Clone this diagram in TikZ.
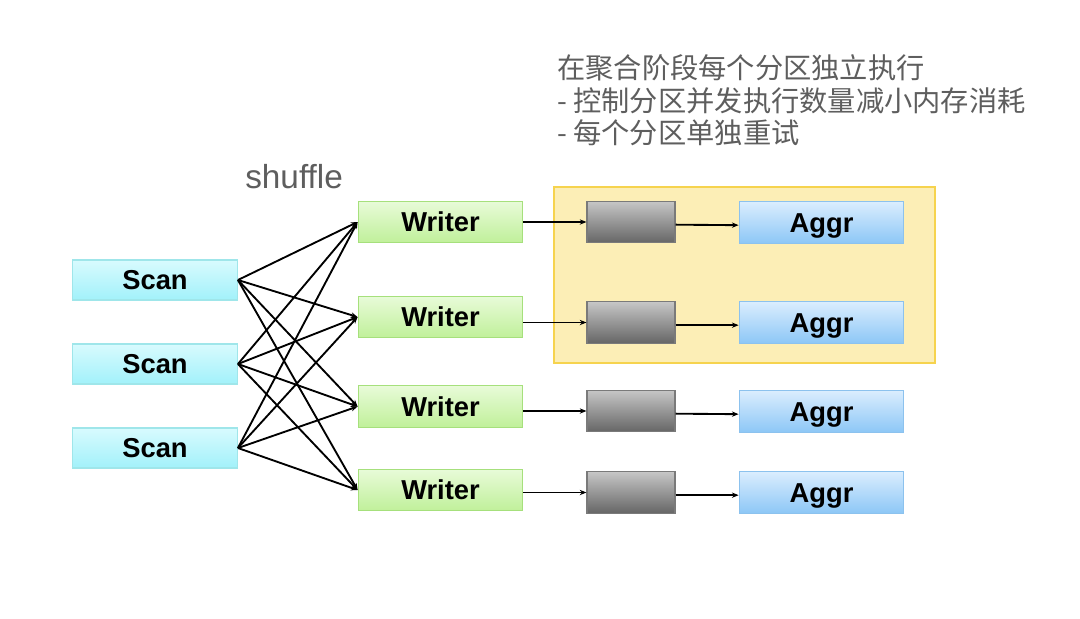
\documentclass[tikz,border=0pt]{standalone}
\usepackage{fontspec}
\setmainfont{Liberation Sans}
\newfontfamily\cjk{Noto Sans CJK SC}
\usetikzlibrary{arrows.meta}
\definecolor{scanTop}{HTML}{D8FBFE}
\definecolor{scanBot}{HTML}{A2F1FA}
\definecolor{scanLine}{HTML}{9FE6EA}
\definecolor{wrTop}{HTML}{E8FBD8}
\definecolor{wrBot}{HTML}{C0F09A}
\definecolor{wrLine}{HTML}{A6E07C}
\definecolor{agTop}{HTML}{DAEDFE}
\definecolor{agBot}{HTML}{8DC7F6}
\definecolor{agLine}{HTML}{8CC2EE}
\definecolor{gyTop}{HTML}{C6C6C6}
\definecolor{gyBot}{HTML}{666666}
\definecolor{gyLine}{HTML}{7A7A7A}
\definecolor{zoneFill}{HTML}{FCEEB6}
\definecolor{zoneLine}{HTML}{F6D34E}
\definecolor{noteGray}{HTML}{5E5E5E}
\tikzset{
  x=0.75pt, y=-0.75pt,
  opbox/.style={draw, line width=0.9pt, inner sep=0pt, font=\fontsize{20.5}{22}\selectfont\bfseries,
    text height=14.8pt, text depth=0pt,
    minimum width=123.5pt, minimum height=31pt},
  scanbox/.style={opbox, draw=scanLine, top color=scanTop, bottom color=scanBot, minimum height=30pt},
  writerbox/.style={opbox, draw=wrLine, top color=wrTop, bottom color=wrBot},
  aggrbox/.style={opbox, draw=agLine, top color=agTop, bottom color=agBot},
  bufbox/.style={draw=gyLine, line width=0.9pt, top color=gyTop, bottom color=gyBot,
    minimum width=66pt, minimum height=31pt, inner sep=0pt},
  link/.style={line width=1.4pt, -{Stealth[length=5pt,width=4pt]}},
  note/.style={anchor=west, inner sep=0pt, text=noteGray, font=\cjk\fontsize{21.2}{24}\selectfont},
}
\begin{document}
\begin{tikzpicture}
\useasboundingbox (0,0) rectangle (1080,618);
\fill[white] (0,0) rectangle (1080,618);
% yellow zone
\node[draw=zoneLine, fill=zoneFill, line width=1.1pt, minimum width=285.75pt, minimum height=132pt, inner sep=0pt] (zone) at (744.5,275) {};
% scans
\node[scanbox] (s1) at (155,280) {Scan};
\node[scanbox] (s2) at (155,364) {Scan};
\node[scanbox] (s3) at (155,448) {Scan};
% writers
\node[writerbox] (w1) at (440.5,222) {Writer};
\node[writerbox] (w2) at (440.5,317) {Writer};
\node[writerbox] (w3) at (440.5,406.5) {Writer};
\node[writerbox] (w4) at (440.5,490) {Writer};
% buffers
\node[bufbox] (g1) at (631,222) {};
\node[bufbox] (g2) at (631,322.5) {};
\node[bufbox] (g3) at (631,411) {};
\node[bufbox] (g4) at (631,492.5) {};
% aggrs
\node[aggrbox] (a1) at (821.5,222.5) {Aggr};
\node[aggrbox] (a2) at (821.5,322.5) {Aggr};
\node[aggrbox] (a3) at (821.5,411.5) {Aggr};
\node[aggrbox] (a4) at (821.5,492.5) {Aggr};
% shuffle edges
\foreach \s in {s1,s2,s3}{
  \foreach \w in {w1,w2,w3,w4}{
    \draw[link] (\s.east) -- (\w.west);
  }
}
% writer -> buffer -> aggr
\foreach \i in {1,2,3,4}{
  \draw[link] (w\i.east |- g\i.west) -- (g\i.west);
  \draw[link] ([yshift=-2pt]g\i.east) -- ([yshift=-2pt]a\i.west);
}
% labels
\node[anchor=base west, inner sep=0pt, text=noteGray, font=\fontsize{25}{27}\selectfont] (shuf) at (245,188) {shuffle};
\node[note] (n1) at (557,68) {在聚合阶段每个分区独立执行};
\node[note] (n2) at (557,101) {- 控制分区并发执行数量减小内存消耗};
\node[note] (n3) at (557,133) {- 每个分区单独重试};
\end{tikzpicture}
\end{document}
